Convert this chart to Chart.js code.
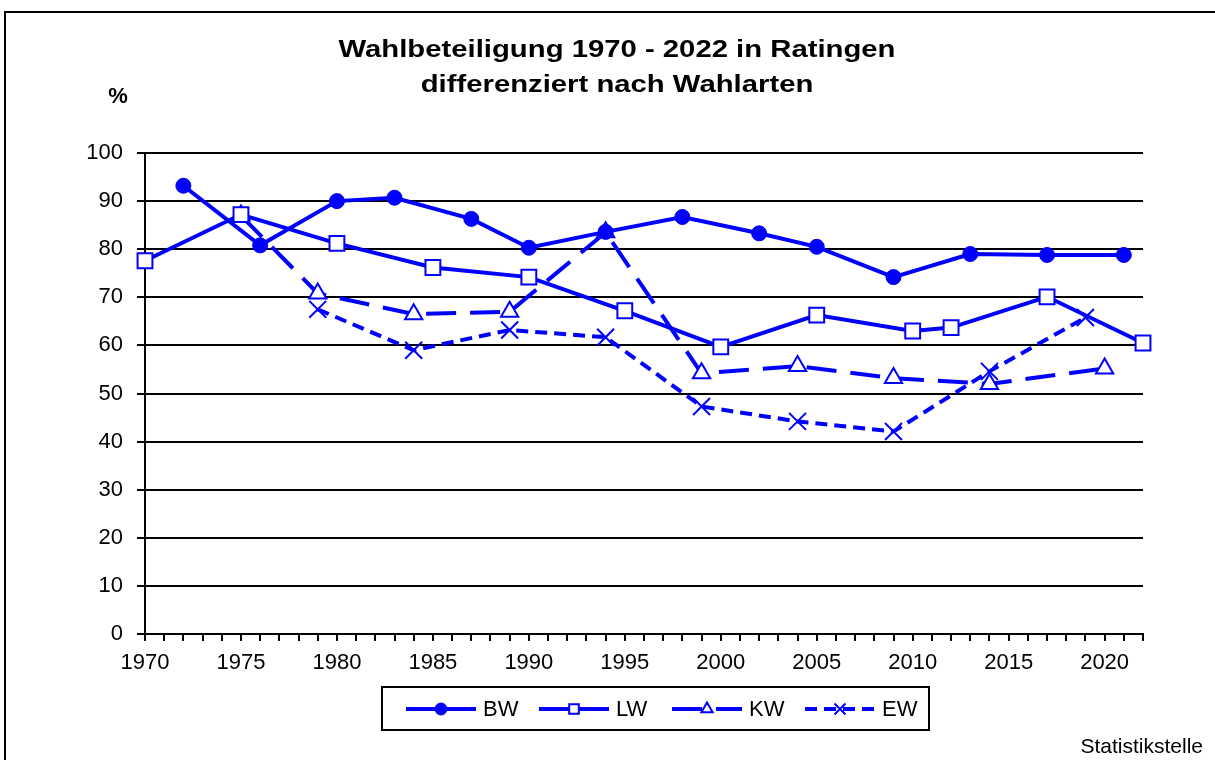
<!DOCTYPE html>
<html>
<head>
<meta charset="utf-8">
<script src="https://cdn.jsdelivr.net/npm/chart.js@4"></script>
<style>
html,body{margin:0;padding:0;background:#fff;}
#wrap{width:1215px;height:760px;}
</style>
</head>
<body>
<div id="wrap"><canvas id="c" width="1215" height="760"></canvas></div>
<script>
const titleLines = ['Wahlbeteiligung 1970 - 2022 in Ratingen', 'differenziert nach Wahlarten'];
const yUnit = '%';
const sourceNote = 'Statistikstelle';
const seriesNames = ['BW', 'LW', 'KW', 'EW'];

const bwYears = [1972, 1976, 1980, 1983, 1987, 1990, 1994, 1998, 2002, 2005, 2009, 2013, 2017, 2021];
const bwValues = [93.2, 80.8, 90.0, 90.7, 86.3, 80.3, 83.6, 86.7, 83.3, 80.5, 74.2, 79.0, 78.8, 78.8];
const lwYears = [1970, 1975, 1980, 1985, 1990, 1995, 2000, 2005, 2010, 2012, 2017, 2022];
const lwValues = [77.6, 87.2, 81.2, 76.2, 74.2, 67.2, 59.7, 66.3, 63.0, 63.7, 70.1, 60.5];
const kwYears = [1975, 1979, 1984, 1989, 1994, 1999, 2004, 2009, 2014, 2020];
const kwValues = [87.0, 70.8, 66.5, 67.0, 83.5, 54.2, 55.7, 53.2, 52.0, 55.2];
const ewYears = [1979, 1984, 1989, 1994, 1999, 2004, 2009, 2014, 2019];
const ewValues = [67.5, 59.0, 63.2, 61.7, 47.3, 44.2, 42.1, 54.6, 65.8];

const xMin = 1970, xMax = 2022;
const yMin = 0, yMax = 100, yStep = 10;

function pts(xs, ys) { return xs.map((x, i) => ({ x: x, y: ys[i] })); }

const BLUE = '#0000FF';
const FONT = '"Liberation Sans", Arial, sans-serif';

const datasets = [
  { label: seriesNames[0], data: pts(bwYears, bwValues), borderColor: BLUE, borderWidth: 4, borderDash: [],
    pointStyle: 'circle', pointRadius: 7.5, pointBorderWidth: 1, pointBackgroundColor: BLUE, pointBorderColor: BLUE, legendScale: 0.8 },
  { label: seriesNames[1], data: pts(lwYears, lwValues), borderColor: BLUE, borderWidth: 4, borderDash: [],
    pointStyle: 'rect', pointRadius: 10.5, pointBorderWidth: 2, pointBackgroundColor: '#fff', pointBorderColor: BLUE, legendScale: 0.65 },
  { label: seriesNames[2], data: pts(kwYears, kwValues), borderColor: BLUE, borderWidth: 4, borderDash: [30, 14],
    pointStyle: 'triangle', pointRadius: 10, pointBorderWidth: 2, pointBackgroundColor: '#fff', pointBorderColor: BLUE, legendScale: 0.65 },
  { label: seriesNames[3], data: pts(ewYears, ewValues), borderColor: BLUE, borderWidth: 4, borderDash: [12, 7],
    pointStyle: 'crossRot', pointRadius: 12, pointBorderWidth: 2, pointBackgroundColor: '#fff', pointBorderColor: BLUE, legendScale: 0.65 }
].map(d => Object.assign({ fill: false, tension: 0, clip: false, showLine: true }, d));

const decor = {
  id: 'decor',
  beforeDraw(chart) {
    const ctx = chart.ctx;
    ctx.save();
    ctx.fillStyle = '#fff';
    ctx.fillRect(0, 0, chart.width, chart.height);
    ctx.restore();
  },
  afterDraw(chart) {
    const ctx = chart.ctx;
    ctx.save();
    // outer frame (left and top)
    ctx.strokeStyle = '#000';
    ctx.lineWidth = 2;
    ctx.beginPath();
    ctx.moveTo(5, 760);
    ctx.lineTo(5, 12);
    ctx.lineTo(1215, 12);
    ctx.stroke();

    // title
    ctx.fillStyle = '#000';
    ctx.font = 'bold 24px ' + FONT;
    ctx.textAlign = 'center';
    ctx.textBaseline = 'alphabetic';
    const tb = [57, 92];
    titleLines.forEach((t, i) => {
      ctx.save();
      ctx.translate(617, tb[i]);
      ctx.scale(1.22, 1);
      ctx.fillText(t, 0, 0);
      ctx.restore();
    });

    // unit
    ctx.font = 'bold 22px ' + FONT;
    ctx.fillText(yUnit, 118, 103);

    // source
    ctx.font = '21px ' + FONT;
    ctx.textAlign = 'right';
    ctx.fillText(sourceNote, 1203, 753);

    // legend
    const bx = 382, by = 687, bw = 547, bh = 43;
    ctx.lineWidth = 2;
    ctx.strokeStyle = '#000';
    ctx.strokeRect(bx, by, bw, bh);
    const cy = by + bh / 2 + 0.5;
    chart.data.datasets.forEach((d, i) => {
      const x0 = bx + 24 + i * 133;
      const len = 70;
      ctx.save();
      ctx.strokeStyle = d.borderColor;
      ctx.lineWidth = d.borderWidth;
      ctx.setLineDash(d.borderDash || []);
      ctx.beginPath();
      ctx.moveTo(x0, cy);
      ctx.lineTo(x0 + len, cy);
      ctx.stroke();
      ctx.setLineDash([]);
      ctx.strokeStyle = d.pointBorderColor;
      ctx.fillStyle = d.pointBackgroundColor;
      ctx.lineWidth = d.pointBorderWidth;
      Chart.helpers.drawPoint(ctx, { pointStyle: d.pointStyle, rotation: 0, radius: d.pointRadius * d.legendScale, borderWidth: d.pointBorderWidth }, x0 + len / 2, cy);
      ctx.restore();
      ctx.fillStyle = '#000';
      ctx.font = '22px ' + FONT;
      ctx.textAlign = 'left';
      ctx.textBaseline = 'middle';
      ctx.fillText(d.label, x0 + len + 7, cy + 1);
    });
    ctx.restore();
  }
};

new Chart(document.getElementById('c'), {
  type: 'line',
  data: { datasets: datasets },
  options: {
    responsive: false,
    animation: false,
    devicePixelRatio: 1,
    layout: { padding: { left: 0, right: 72, top: 153, bottom: 76 } },
    plugins: { legend: { display: false }, tooltip: { enabled: false }, title: { display: false } },
    scales: {
      x: {
        type: 'linear',
        min: xMin,
        max: xMax,
        afterFit(s) { s.height = 50; },
        ticks: {
          stepSize: 1,
          autoSkip: false,
          maxRotation: 0,
          minRotation: 0,
          padding: 9,
          color: '#000',
          font: { family: FONT, size: 22 },
          callback: v => (v % 5 === 0 ? String(v) : '')
        },
        grid: { display: true, drawOnChartArea: false, drawTicks: true, tickLength: 7, color: '#000', lineWidth: 2 },
        border: { display: true, color: '#000', width: 2 }
      },
      y: {
        type: 'linear',
        min: yMin,
        max: yMax,
        afterFit(s) { s.width = 145; },
        ticks: {
          stepSize: yStep,
          padding: 14,
          color: '#000',
          font: { family: FONT, size: 22 },
          callback: v => String(v)
        },
        grid: { display: true, color: '#000', lineWidth: 2, tickLength: 8 },
        border: { display: true, color: '#000', width: 2 }
      }
    }
  },
  plugins: [decor]
});
</script>
</body>
</html>
